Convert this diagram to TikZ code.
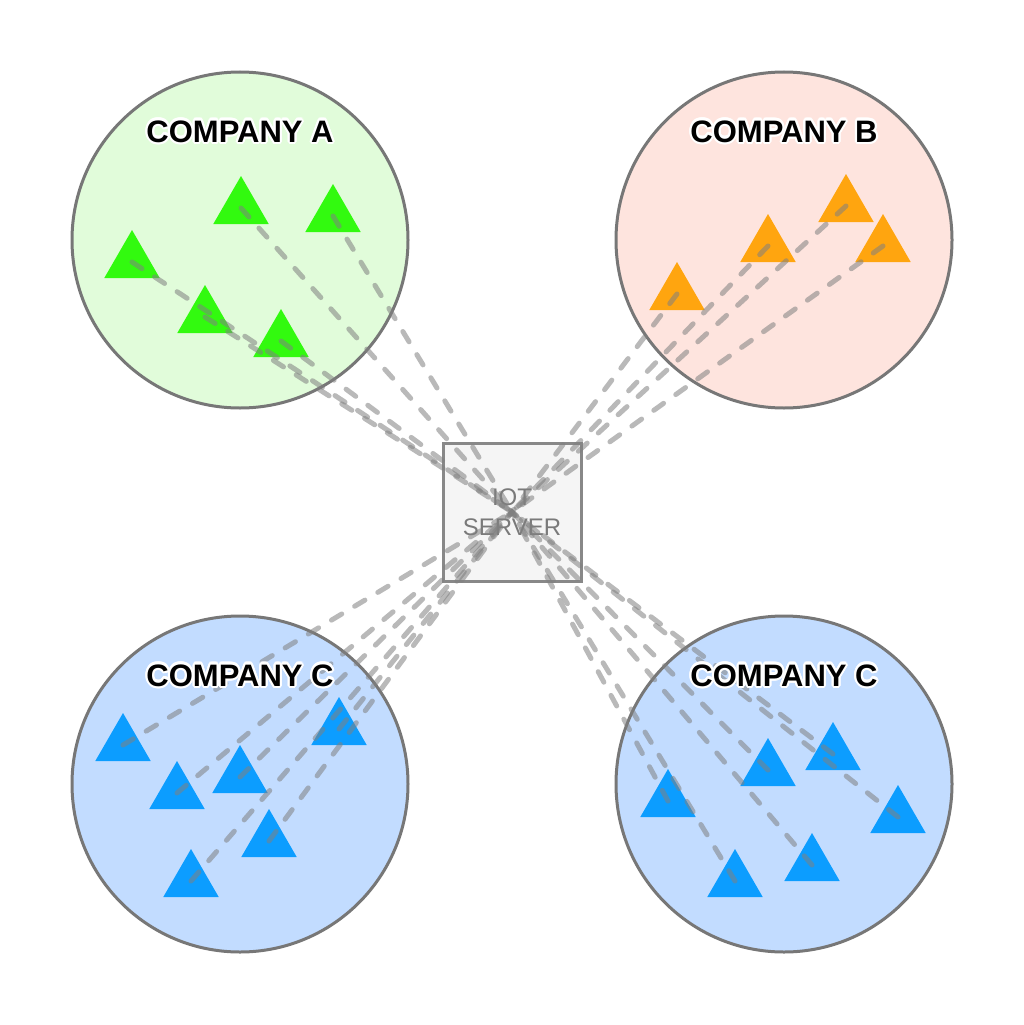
\documentclass[tikz,border=0pt]{standalone}
\usepackage{fontspec}
\setmainfont{Liberation Sans}
\usepackage{contour}
\contourlength{2.2pt}
\usetikzlibrary{shapes.geometric}
\definecolor{ringgray}{RGB}{119,119,119}
\definecolor{linkgray}{RGB}{128,128,128}
\definecolor{boxgray}{RGB}{136,136,136}
\definecolor{boxfill}{RGB}{245,245,245}
\definecolor{srvtext}{RGB}{122,122,122}
\definecolor{fillA}{RGB}{225,252,218}
\definecolor{fillB}{RGB}{254,228,222}
\definecolor{fillC}{RGB}{194,220,255}
\definecolor{devgreen}{RGB}{50,250,15}
\definecolor{devorange}{RGB}{255,165,15}
\definecolor{devblue}{RGB}{12,157,255}
\begin{document}
\begin{tikzpicture}[x=1pt, y=-1pt,
    company/.style={circle, draw=ringgray, line width=3pt, minimum size=336pt, inner sep=0pt},
    device/.style={regular polygon, regular polygon sides=3, minimum size=64pt, inner sep=0pt, outer sep=0pt},
    link/.style={draw=linkgray, opacity=.55, line width=5pt, line cap=round, dash pattern=on 12pt off 15pt},
    title/.style={font=\fontsize{31}{36}\selectfont\bfseries, anchor=base}]
  \useasboundingbox (0,0) rectangle (1024,1025);
  % companies
  \node[company, fill=fillA] (compA) at (240,240) {};
  \node[company, fill=fillB] (compB) at (784,240) {};
  \node[company, fill=fillC] (compC) at (240,784) {};
  \node[company, fill=fillC] (compD) at (784,784) {};
  % devices
  \foreach \n/\x/\y in {1/241/208, 2/333/216, 3/132/262, 4/205/317, 5/281/341}
    \node[device, fill=devgreen] (a\n) at (\x,\y) {};
  \foreach \n/\x/\y in {1/677/294, 2/768/246, 3/846/206, 4/883/246}
    \node[device, fill=devorange] (b\n) at (\x,\y) {};
  \foreach \n/\x/\y in {1/123/745, 2/177/793, 3/240/777, 4/339/729, 5/269/841, 6/191/881}
    \node[device, fill=devblue] (c\n) at (\x,\y) {};
  \foreach \n/\x/\y in {1/668/801, 2/768/770, 3/833/754, 4/898/817, 5/812/865, 6/735/881}
    \node[device, fill=devblue] (d\n) at (\x,\y) {};
  % server
  \node[draw=boxgray, line width=3pt, fill=boxfill, minimum size=138pt, inner sep=0pt,
    align=center, text=srvtext, font=\fontsize{24}{30}\selectfont] (srv) at (512,512) {IOT\\SERVER};
  % links
  \foreach \n in {1,...,5}
    \draw[link] (a\n.center) -- (srv.center);
  \foreach \n in {1,...,4}
    \draw[link] (b\n.center) -- (srv.center);
  \foreach \n in {1,...,6}
    \draw[link] (c\n.center) -- (srv.center);
  \foreach \n in {1,...,6}
    \draw[link] (d\n.center) -- (srv.center);
  % labels
  \node[title] (labA) at (240,142) {\contour{white}{COMPANY A}};
  \node[title] (labB) at (784,142) {\contour{white}{COMPANY B}};
  \node[title] (labC) at (240,686) {\contour{white}{COMPANY C}};
  \node[title] (labD) at (784,686) {\contour{white}{COMPANY C}};
\end{tikzpicture}
\end{document}
